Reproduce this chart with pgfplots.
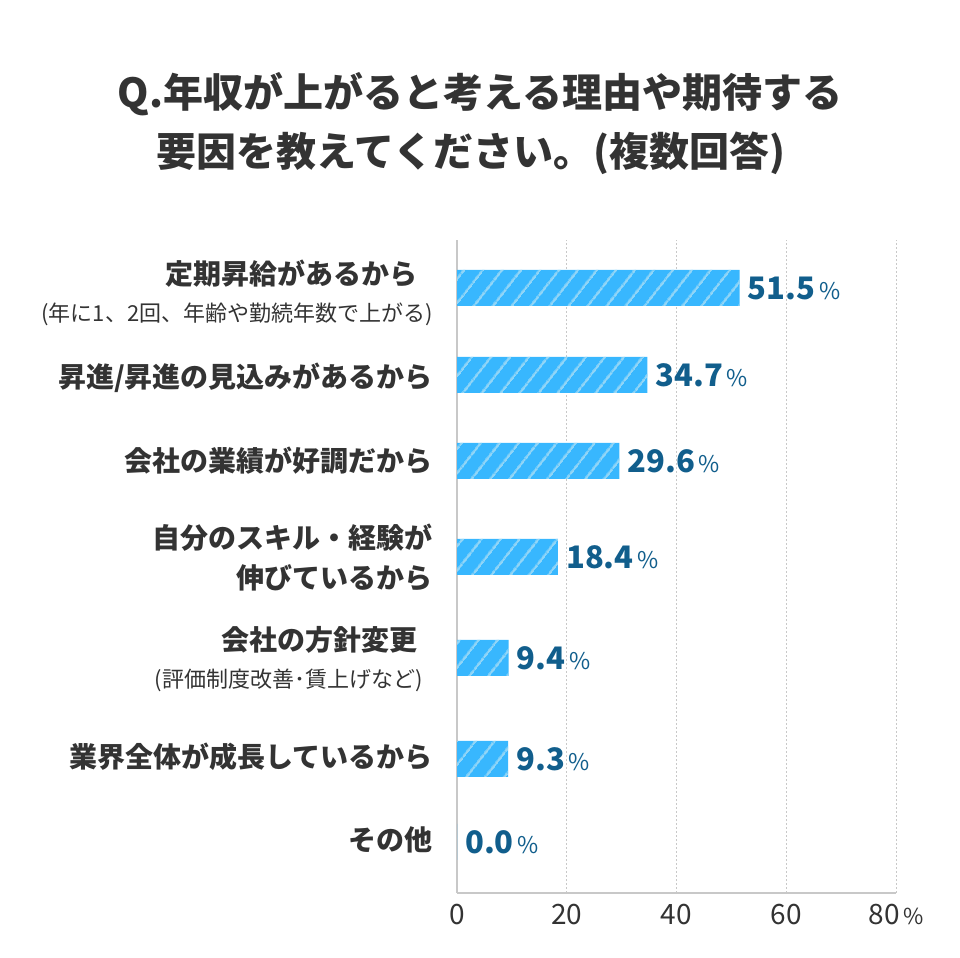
\documentclass[border=0pt]{standalone}
\usepackage{fontspec}
\setmainfont{Noto Sans CJK JP}
\usepackage{pgfplots}
\pgfplotsset{compat=1.18}
\usetikzlibrary{patterns.meta}
\definecolor{barblue}{HTML}{38B7FE}
\definecolor{hatch}{HTML}{93D6F6}
\definecolor{valblue}{HTML}{115E8C}
\definecolor{txt}{HTML}{333333}
\definecolor{axgray}{HTML}{C8C8C8}
\begin{document}
\begin{tikzpicture}[x=1bp,y=1bp]
\useasboundingbox (0,0) rectangle (960,958);
% title
\node[txt, font=\fontsize{40bp}{40bp}\selectfont\bfseries] at (480,864) {Q.年収が上がると考える理由や期待する};
\node[txt, font=\fontsize{40bp}{40bp}\selectfont\bfseries] at (471,805) {要因を教えてください。(複数回答)};
\begin{axis}[
  at={(457bp,65bp)}, anchor=south west, scale only axis,
  width=439bp, height=653bp,
  xmin=0, xmax=80, ymin=65, ymax=718,
  xbar, bar width=36,
  axis x line*=bottom, axis y line*=left,
  axis line style={-, axgray, line width=2.5bp},
  xmajorgrids, grid style={axgray, line width=0.8bp, dash pattern=on 2bp off 2bp},
  xtick={0,20,40,60,80}, xticklabels={0,20,40,60,{80{\fontsize{22bp}{24bp}\selectfont\,\%}}},
  ytick=\empty, major tick length=0pt,
  xticklabel style={txt, font=\fontsize{28bp}{30bp}\selectfont, yshift=-8bp},
  /pgf/number format/assume math mode=true,
  point meta=x,
  nodes near coords={\textbf{\pgfmathprintnumber[fixed,fixed zerofill,precision=1]{\pgfplotspointmeta}}{\fontsize{23bp}{24bp}\selectfont\,\%}},
  nodes near coords align=horizontal,
  every node near coord/.append style={valblue, font=\fontsize{31bp}{32bp}\selectfont, inner sep=0pt, xshift=8bp, anchor=west},
  clip=false,
]
\addplot[fill=barblue, draw=none,
  postaction={pattern={Lines[angle=52, distance=15bp, line width=2bp]}, pattern color=hatch}]
  coordinates {(51.5,670) (34.7,583) (29.6,497) (18.4,401) (9.4,300) (9.3,199) (0.0,116)};
\end{axis}
% category labels
\begin{scope}[every node/.style={txt, anchor=east, inner sep=0pt}]
\node[font=\fontsize{28bp}{28bp}\selectfont\bfseries] at (418,684) {定期昇給があるから};
\node[font=\fontsize{22bp}{22bp}\selectfont] at (433,644) {(年に1、2回、年齢や勤続年数で上がる)};
\node[font=\fontsize{28bp}{28bp}\selectfont\bfseries] at (433,580) {昇進/昇進の見込みがあるから};
\node[font=\fontsize{28bp}{28bp}\selectfont\bfseries] at (433,497) {会社の業績が好調だから};
\node[font=\fontsize{28bp}{28bp}\selectfont\bfseries] at (433,420) {自分のスキル・経験が};
\node[font=\fontsize{28bp}{28bp}\selectfont\bfseries] at (433,380) {伸びているから};
\node[font=\fontsize{28bp}{28bp}\selectfont\bfseries] at (418,318) {会社の方針変更};
\node[font=\fontsize{22bp}{22bp}\selectfont] at (423,278) {(評価制度改善･賃上げなど)};
\node[font=\fontsize{28bp}{28bp}\selectfont\bfseries] at (433,201) {業界全体が成長しているから};
\node[font=\fontsize{28bp}{28bp}\selectfont\bfseries] at (433,118) {その他};
\end{scope}
\end{tikzpicture}
\end{document}
